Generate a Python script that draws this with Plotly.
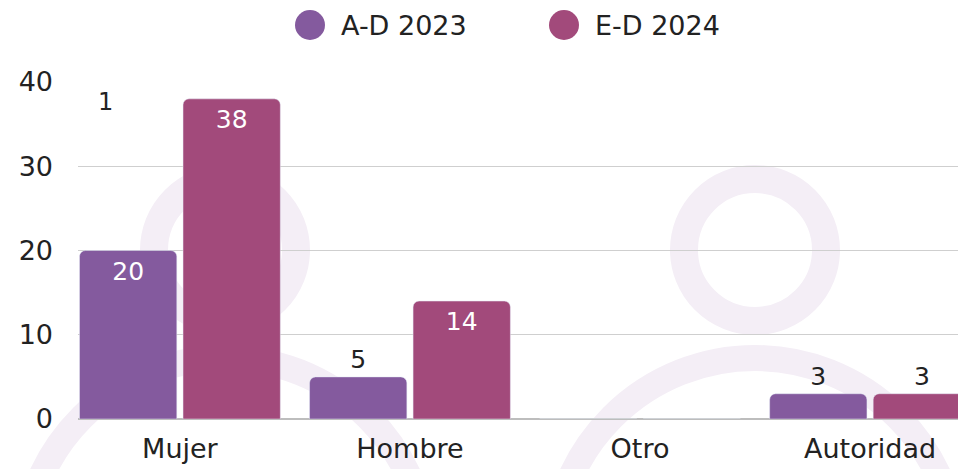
import plotly.graph_objects as go

categories = ['Mujer', 'Hombre', 'Otro', 'Autoridad']
series_names = ['A-D 2023', 'E-D 2024']
values_2023 = [20, 5, 0, 3]
values_2024 = [38, 14, 0, 3]
colors = ['#845A9E', '#A24A7B']
y_ticks = [0, 10, 20, 30, 40]

# the page puts the plot 8px in from the top-left corner, so shrink to fit
OFF = 8
W, H = 966 - OFF, 469 - OFF
L, R, T, B = 70, 0, 74, 50
FONT = 'DejaVu Sans'
WATERMARK = '#F4EEF6'


def px_x(p):
    """window pixel -> paper x"""
    return (p - OFF - L) / (W - L - R)


def px_y(p):
    """window pixel -> paper y"""
    return (H - B - (p - OFF)) / (H - T - B)


def labels(vals):
    return [str(v) if v else '' for v in vals]


def positions(vals):
    return ['inside' if v >= 10 else 'outside' for v in vals]


fig = go.Figure()
for name, vals, col in zip(series_names, [values_2023, values_2024], colors):
    fig.add_trace(go.Bar(
        x=categories, y=vals, name=name, marker_color=col,
        marker_cornerradius=6, text=labels(vals), textposition=positions(vals),
        insidetextanchor='end', cliponaxis=True,
        insidetextfont=dict(color='white', size=25, family=FONT),
        outsidetextfont=dict(color='#222222', size=25, family=FONT),
        showlegend=False,
    ))

# faint person-shaped watermark behind the plot
shapes = []
for cx in (225, 755):
    for (cy, r, w) in ((250, 71, 28), (560, 202, 26)):
        shapes.append(dict(type='circle', xref='paper', yref='paper', layer='below',
                           x0=px_x(cx - r), x1=px_x(cx + r), y0=px_y(cy + r), y1=px_y(cy - r),
                           line=dict(color=WATERMARK, width=w)))

# legend drawn by hand so the dots can be large
annotations = []
for i, (name, col) in enumerate(zip(series_names, colors)):
    cx = 310 + 254 * i
    shapes.append(dict(type='circle', xref='paper', yref='paper',
                       x0=px_x(cx - 15), x1=px_x(cx + 15), y0=px_y(40), y1=px_y(10),
                       fillcolor=col, line=dict(width=0)))
    annotations.append(dict(text=name, xref='paper', yref='paper', x=px_x(cx + 29), y=px_y(25),
                            xanchor='left', yanchor='middle', showarrow=False,
                            font=dict(size=27, color='#222222', family=FONT)))

annotations.append(dict(text='1', xref='paper', yref='paper', x=px_x(105), y=px_y(102),
                        xanchor='center', yanchor='middle', showarrow=False,
                        font=dict(size=24, color='#222222', family=FONT)))

fig.update_layout(
    width=W, height=H,
    margin=dict(l=L, r=R, t=T, b=B),
    paper_bgcolor='white', plot_bgcolor='rgba(0,0,0,0)',
    barmode='group', bargap=0.1, bargroupgap=0.06,
    font=dict(family=FONT, size=27, color='#222222'),
    shapes=shapes, annotations=annotations,
    showlegend=False,
)
fig.update_xaxes(range=[-0.443, 3.417], showgrid=False, showline=False, ticks='',
                 ticklabelstandoff=11, tickfont=dict(size=27))
fig.update_yaxes(range=[0, 40], tickvals=y_ticks, gridcolor='#CFCFCF', gridwidth=1,
                 zeroline=True, zerolinecolor='#BDBDBD', zerolinewidth=1.5,
                 showline=False, ticks='', ticklabelstandoff=24, tickfont=dict(size=27))

fig.write_html('out.html')
